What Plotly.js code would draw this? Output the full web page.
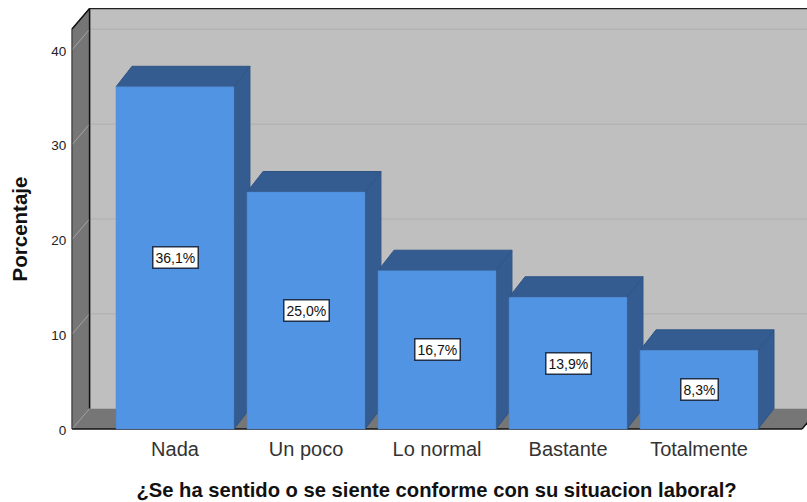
<!DOCTYPE html>
<html><head><meta charset="utf-8">
<script src="https://cdn.plot.ly/plotly-3.0.1.min.js"></script>
<style>html,body{margin:0;padding:0;background:#fff;overflow:hidden}</style>
</head><body><div id="chart" style="width:807px;height:502px"></div>
<script>
const categories = ['Nada','Un poco','Lo normal','Bastante','Totalmente'];
const porcentajes = [36.1,25.0,16.7,13.9,8.3];
const yTicks = [0,10,20,30,40];
const xTitle = '¿Se ha sentido o se siente conforme con su situacion laboral?';
const yTitle = 'Porcentaje';

const depthX = 0.134, barDepthX = 0.122, depthY = 2.16, barW = 0.9;
const xStart = -0.832, xL = -0.786, xR = 4.786, xEnd = 4.824, yB = -2.215, yT = 44.41, wallTop = 42.2;
const idx = categories.map((_, i) => i);
const font = 'Liberation Sans, Arial, sans-serif';

function poly(pts, fill, line, w) {
  return {type:'path', layer:'below', xref:'x', yref:'y',
    path:'M' + pts.map(p => p[0] + ',' + p[1]).join(' L') + ' Z',
    fillcolor:fill, line:{color:line, width:w === undefined ? 1 : w}};
}
function seg(x0,y0,x1,y1,color,w) {
  return {type:'line', layer:'below', xref:'x', yref:'y', x0, y0, x1, y1, line:{color, width:w}};
}

const shapes = [];
const bx = xL + depthX, by = depthY, byT = wallTop + depthY;
// back wall, left wall, floor
shapes.push(poly([[bx,by],[xEnd + 1,by],[xEnd + 1,byT],[bx,byT]], '#bfbfbf', '#bfbfbf', 0));
shapes.push(poly([[xL,0],[bx,by],[bx,byT],[xL,wallTop]], '#767676', '#555555', 1));
shapes.push(poly([[xL,0],[xR,0],[xR + depthX,by],[bx,by]], '#767676', '#767676', 0));
// gridlines
yTicks.forEach(t => {
  if (t > 0) shapes.push(seg(bx, t + by, xEnd + 1, t + by, '#b4b4b4', 1.5));
  shapes.push(seg(xL, t, bx, t + by, '#a4a4a4', 1));
});
// frame
shapes.push(seg(bx, by, bx, byT, '#111111', 1.5));
shapes.push(seg(bx, byT, xEnd + 1, byT, '#222222', 1.5));
shapes.push(seg(xL, wallTop, bx, byT, '#111111', 1.5));
shapes.push(seg(xL, 0, xL, wallTop, '#444444', 1));
shapes.push(seg(xL, 0, xR, 0, '#111111', 1.5));
shapes.push(seg(xR, 0, xR + depthX, by, '#111111', 1.5));
// 3D sides and tops of the bars
idx.forEach(i => {
  const v = porcentajes[i], x1 = i - barW / 2, x2 = i + barW / 2;
  shapes.push(poly([[x2,0],[x2 + barDepthX,by],[x2 + barDepthX,v + by],[x2,v]], '#345c90', '#2f5585', 1));
  shapes.push(poly([[x1,v],[x1 + barDepthX,v + by],[x2 + barDepthX,v + by],[x2,v]], '#345c90', '#2f5585', 1));
});

const annotations = idx.map(i => ({
  x: i, y: porcentajes[i] / 2, xref:'x', yref:'y', showarrow:false,
  text: porcentajes[i].toFixed(1).replace('.', ',') + '%',
  font:{family:font, size:14, color:'#111'},
  bgcolor:'#ffffff', bordercolor:'#1f3048', borderwidth:1.5, borderpad:2
}));

Plotly.newPlot('chart', [{
  type:'bar', x:idx, y:porcentajes, width:barW,
  marker:{color:'#5294e4', line:{color:'#4f86c8', width:0.5}},
  hoverinfo:'skip'
}], {
  width:807, height:502,
  margin:{l:66, r:0, t:8, b:52},
  paper_bgcolor:'#ffffff', plot_bgcolor:'#ffffff',
  showlegend:false,
  xaxis:{range:[xStart, xEnd], tickvals:idx, ticktext:categories, showgrid:false, zeroline:false,
    anchor:'free', position:(0 - yB) / (yT - yB),
    showline:false, ticks:'outside', ticklen:2, tickcolor:'rgba(0,0,0,0)',
    tickfont:{family:font, size:20, color:'#333333'},
    title:{text:xTitle, standoff:23, font:{family:font, size:20.2, color:'#111111', weight:'bold'}}},
  yaxis:{range:[yB, yT], tickvals:yTicks, showgrid:false, zeroline:false, showline:false,
    anchor:'free', position:(xL - xStart) / (xEnd - xStart),
    ticks:'outside', ticklen:3, tickcolor:'rgba(0,0,0,0)', ticklabelshift:1,
    tickfont:{family:font, size:13.5, color:'#222222'},
    title:{text:yTitle, standoff:17, font:{family:font, size:20.5, color:'#111111', weight:'bold'}}},
  shapes, annotations
}, {displayModeBar:false, staticPlot:true});
</script></body></html>
